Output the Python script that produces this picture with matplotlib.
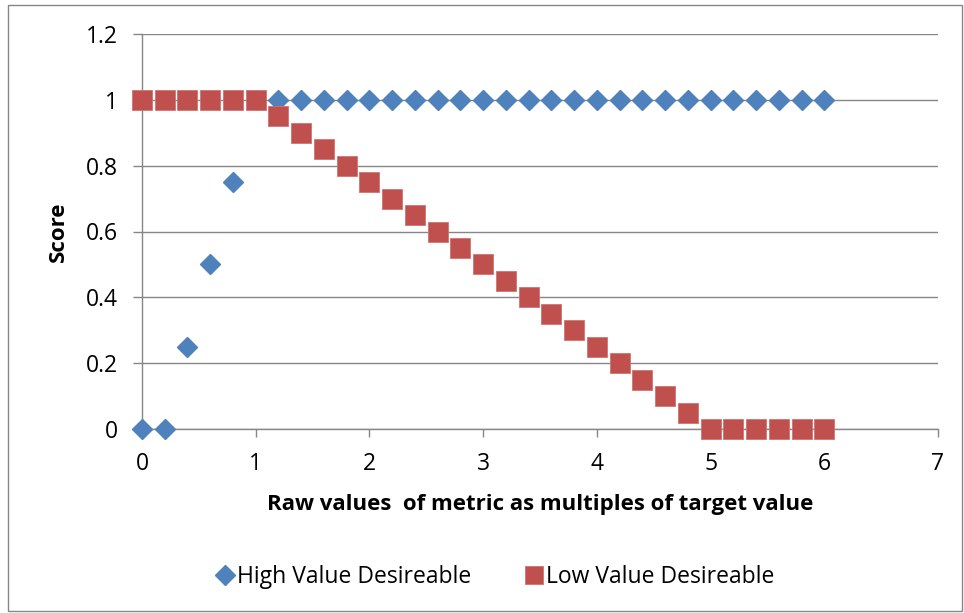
import matplotlib.pyplot as plt
from matplotlib.patches import Rectangle

plt.rcParams['font.family'] = ['Open Sans', 'DejaVu Sans']

# raw value as multiple of target
x_vals = [0.0, 0.2, 0.4, 0.6, 0.8, 1.0, 1.2, 1.4, 1.6, 1.8, 2.0, 2.2, 2.4, 2.6, 2.8, 3.0,
          3.2, 3.4, 3.6, 3.8, 4.0, 4.2, 4.4, 4.6, 4.8, 5.0, 5.2, 5.4, 5.6, 5.8, 6.0]
high_desirable = [0, 0, 0.25, 0.5, 0.75, 1, 1, 1, 1, 1, 1, 1, 1, 1, 1, 1,
                  1, 1, 1, 1, 1, 1, 1, 1, 1, 1, 1, 1, 1, 1, 1]
low_desirable = [1, 1, 1, 1, 1, 1, 0.95, 0.9, 0.85, 0.8, 0.75, 0.7, 0.65, 0.6, 0.55, 0.5,
                 0.45, 0.4, 0.35, 0.3, 0.25, 0.2, 0.15, 0.1, 0.05, 0, 0, 0, 0, 0, 0]
series_names = ['High Value Desireable', 'Low Value Desireable']
x_ticks = [0, 1, 2, 3, 4, 5, 6, 7]
y_ticks = [0, 0.2, 0.4, 0.6, 0.8, 1, 1.2]
y_tick_labels = ['0', '0.2', '0.4', '0.6', '0.8', '1', '1.2']

W, H = 964, 613
fig = plt.figure(figsize=(W / 100, H / 100), dpi=100)
ax = fig.add_axes([142 / W, 1 - 429 / H, (938 - 142) / W, (429 - 34) / H])

grey = '#868686'
blue = '#4F81BD'
red = '#C0504D'

ax.plot(x_vals, high_desirable, linestyle='none', marker='D', ms=10.2,
        color=blue, mec=blue, label=series_names[0], zorder=3, clip_on=False)
ax.plot(x_vals, low_desirable, linestyle='none', marker='s', ms=14.2,
        color=red, mec='#D07472', mew=0.6, label=series_names[1], zorder=4, clip_on=False)

ax.set_xlim(0, 7)
ax.set_ylim(0, 1.2)
ax.set_xticks(x_ticks)
ax.set_yticks(y_ticks)
ax.set_yticklabels(y_tick_labels)
ax.yaxis.grid(True, color=grey, linewidth=1)
ax.set_axisbelow(True)

for s in ['top', 'right']:
    ax.spines[s].set_visible(False)
for s in ['left', 'bottom']:
    ax.spines[s].set_color(grey)
    ax.spines[s].set_linewidth(1)

ax.tick_params(axis='both', colors=grey, labelcolor='black', labelsize=16.5, width=1)
ax.tick_params(axis='y', length=6.5, pad=11)
ax.tick_params(axis='x', length=5.5, pad=11)

ax.set_xlabel('Raw values  of metric as multiples of target value', fontsize=16,
              fontweight='bold', labelpad=13)
ax.set_ylabel('Score', fontsize=16, fontweight='bold', labelpad=12)

fig.legend(loc='center', bbox_to_anchor=(494 / W, 1 - 577 / H), ncol=2, frameon=False,
           fontsize=16.5, handletextpad=0.05, columnspacing=2.2, markerscale=0.95,
           handlelength=1.0)

fig.patches.append(Rectangle((8 / W, 1 - 611 / H), (962 - 8) / W, (611 - 5) / H,
                             transform=fig.transFigure, fill=False, edgecolor=grey,
                             linewidth=1))

fig.savefig('out.png', dpi=100)
